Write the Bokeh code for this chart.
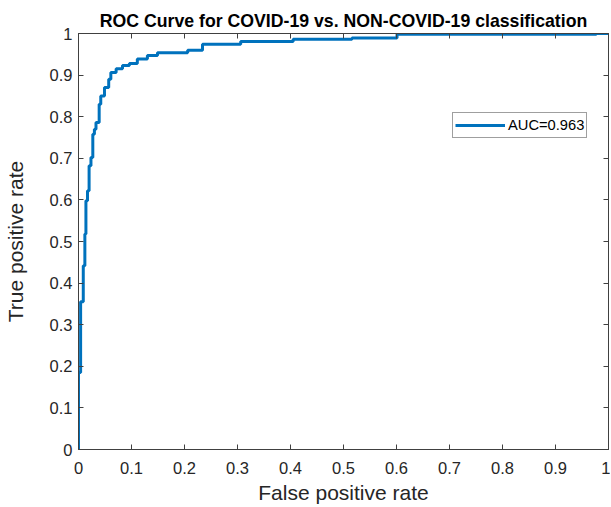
from bokeh.plotting import figure
from bokeh.models import (LinearAxis, FixedTicker, CustomJSTickFormatter, Range1d,
                          Legend, LegendItem)
from bokeh.embed import file_html
from bokeh.resources import INLINE

# ROC operating points: at each fpr the curve rises to tpr, then runs right to the next fpr
fpr = [0.000, 0.004, 0.009, 0.012, 0.014, 0.017, 0.020, 0.0235, 0.027, 0.030,
       0.033, 0.039, 0.042, 0.049, 0.057, 0.061, 0.071, 0.083, 0.096, 0.111,
       0.130, 0.149, 0.206, 0.234, 0.306, 0.405, 0.516, 0.601, 0.977, 1.000]
tpr = [0.185, 0.355, 0.442, 0.518, 0.598, 0.622, 0.682, 0.702, 0.758, 0.770,
       0.786, 0.830, 0.850, 0.870, 0.890, 0.906, 0.915, 0.923, 0.928, 0.939,
       0.947, 0.954, 0.960, 0.974, 0.981, 0.986, 0.989, 0.998, 1.000, 1.000]

tick_values = [0, 0.1, 0.2, 0.3, 0.4, 0.5, 0.6, 0.7, 0.8, 0.9, 1]
tick_labels = ["0", "0.1", "0.2", "0.3", "0.4", "0.5", "0.6", "0.7", "0.8", "0.9", "1"]

title_text = "ROC Curve for COVID-19 vs. NON-COVID-19 classification"
x_label = "False positive rate"
y_label = "True positive rate"
legend_label = "AUC=0.963"

# staircase path built from the operating points
xs, ys = [0.0], [0.0]
for i in range(len(fpr)):
    xs.append(fpr[i]); ys.append(tpr[i])
    if i + 1 < len(fpr):
        xs.append(fpr[i + 1]); ys.append(tpr[i])

FONT = "Liberation Sans"
AX = "#404040"
TXT = "#262626"

p = figure(width=610, height=506, x_range=Range1d(0, 1), y_range=Range1d(0, 1),
           output_backend="svg", toolbar_location=None,
           min_border_left=76, min_border_right=2, min_border_top=33, min_border_bottom=56,
           x_axis_label=x_label, y_axis_label=y_label, title=title_text)

p.title.text_font = FONT
p.title.text_font_size = "17.7px"
p.title.text_font_style = "bold"
p.title.text_color = "#000000"
p.title.align = "center"
p.title.standoff = 6

p.grid.visible = False
p.outline_line_color = AX
p.outline_line_width = 1
p.background_fill_color = "white"
p.border_fill_color = "white"

fmt = CustomJSTickFormatter(args=dict(labels=tick_labels), code="return labels[index];")
blank = CustomJSTickFormatter(code="return '';")

def style_axis(ax, show_labels=True):
    ax.ticker = FixedTicker(ticks=tick_values)
    ax.major_tick_in = 5
    ax.major_tick_out = 0
    ax.minor_tick_line_color = None
    ax.major_tick_line_color = AX
    ax.axis_line_color = AX
    ax.major_label_text_font = FONT
    ax.major_label_text_color = TXT
    ax.axis_label_text_font = FONT
    ax.axis_label_text_font_style = "normal"
    ax.axis_label_text_color = TXT
    ax.axis_label_text_font_size = "21px"
    ax.major_label_text_font_size = "16.5px"
    if show_labels:
        ax.formatter = fmt
    else:
        ax.formatter = blank
        ax.major_label_standoff = 0
        ax.axis_label_standoff = 0

style_axis(p.xaxis[0])
style_axis(p.yaxis[0])
p.xaxis[0].major_label_standoff = 12
p.xaxis[0].axis_label_standoff = 4
p.yaxis[0].major_label_standoff = 6
p.yaxis[0].axis_label_standoff = 20

top = LinearAxis()
right = LinearAxis()
style_axis(top, False)
style_axis(right, False)
p.add_layout(top, "above")
p.add_layout(right, "right")

r = p.line(xs, ys, line_color="#0072BD", line_width=3)

legend = Legend(items=[LegendItem(label=legend_label, renderers=[r])],
                location=(374, 311))
legend.label_text_font = FONT
legend.label_text_font_size = "14.7px"
legend.label_text_color = "#000000"
legend.border_line_color = "#404040"
legend.border_line_width = 1
legend.padding = 2
legend.margin = 0
legend.spacing = 0
legend.glyph_width = 50
legend.glyph_height = 20
legend.label_height = 20
legend.label_standoff = 3
legend.background_fill_alpha = 1
p.add_layout(legend)

open("out.html", "w").write(file_html(p, INLINE))
